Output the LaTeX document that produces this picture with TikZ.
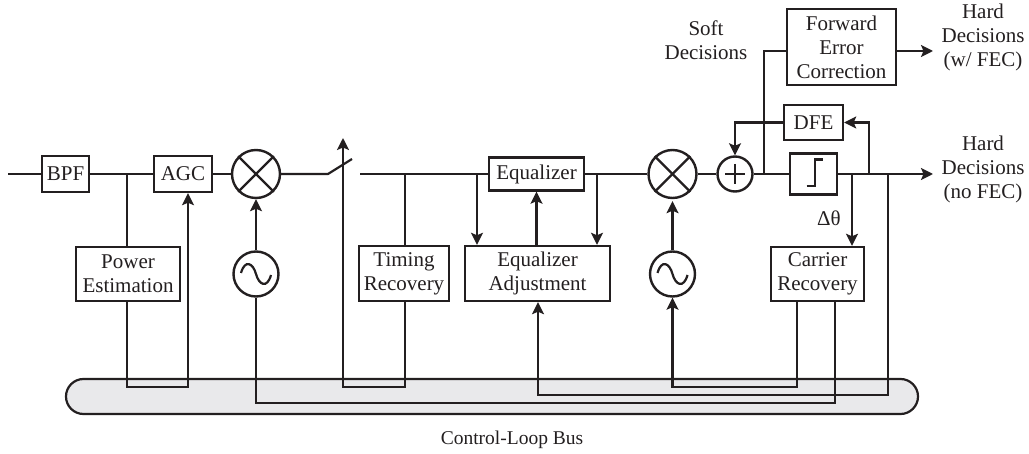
\documentclass[tikz,border=0pt]{standalone}
\usepackage{fontspec}
\setmainfont{Liberation Serif}
\usetikzlibrary{arrows.meta,shapes.misc,calc}
\definecolor{ink}{HTML}{231F20}
\definecolor{busgrey}{HTML}{E9E9EB}
\tikzset{
  every node/.style={text=ink,font=\fontsize{21}{24}\selectfont,inner sep=0pt,align=center},
  wire/.style={draw=ink,line width=2.2pt,line join=miter},
  arr/.style={wire,-{Stealth[length=12pt,width=12pt,inset=2.5pt]}},
  blockbox/.style={draw=ink,line width=2.4pt,fill=white,minimum width=#1},
  circ/.style={circle,draw=ink,line width=2.4pt,fill=white,minimum size=#1},
  txt/.style={draw=none},
  buspill/.style={rounded rectangle,draw=ink,fill=busgrey,line width=2.2pt,minimum width=852pt,minimum height=35pt}
}
\begin{document}
\begin{tikzpicture}[x=1pt,y=-1pt]
\useasboundingbox (0,0) rectangle (1029,454);
% bus
\node[buspill] (bus) at (492,396.5) {};
% blocks
\node[blockbox=47pt,minimum height=36pt] (bpf) at (65.5,174) {BPF};
\node[blockbox=58pt,minimum height=36pt] (agc) at (183,174) {AGC};
\node[blockbox=104pt,minimum height=54pt] (pow) at (128,274) {Power\\Estimation};
\node[blockbox=90pt,minimum height=55pt] (tim) at (404,273.5) {Timing\\Recovery};
\node[blockbox=95pt,minimum height=33pt] (eq) at (536.5,174) {Equalizer};
\node[blockbox=145pt,minimum height=55pt] (adj) at (537.5,273.5) {Equalizer\\Adjustment};
\node[blockbox=93pt,minimum height=54pt] (car) at (817.5,274) {Carrier\\Recovery};
\node[blockbox=109pt,minimum height=76pt] (fec) at (841.5,47) {Forward\\Error\\Correction};
\node[blockbox=59pt,minimum height=35pt] (dfe) at (813.5,122.5) {DFE};
\node[blockbox=47pt,minimum height=41pt] (sl) at (813.5,174) {};
\node[circ=48pt] (mix1) at (256,174) {};
\node[circ=48pt] (mix2) at (672.5,174) {};
\node[circ=45pt] (osc1) at (256,274) {};
\node[circ=45pt] (osc2) at (672.5,274) {};
\node[circ=35pt] (sum) at (735,174) {};
% symbols
\foreach \m in {mix1,mix2}{
  \draw[wire] (\m.45) -- (\m.225);
  \draw[wire] (\m.135) -- (\m.315);
}
\foreach \o in {osc1,osc2}{
  \begin{scope}[shift={(\o.center)}]
    \draw[wire] (-15,-1) .. controls (-11,-15) and (-3,-11) .. (0,0) .. controls (3,11) and (11,15) .. (15,1);
  \end{scope}
}
\draw[wire] ($(sum.center)+(-10,0)$) -- ($(sum.center)+(10,0)$);
\draw[wire] ($(sum.center)+(0,-10)$) -- ($(sum.center)+(0,10)$);
\begin{scope}[shift={(sl.center)}]
  \draw[wire] (-7,12) -- (1.5,12) -- (1.5,-14.5) -- (9,-14.5);
\end{scope}
% named free ends and junctions
\coordinate (in) at (8,174);
\coordinate (swa) at (328,174);
\coordinate (swb) at (352,159);
\coordinate (swc) at (360,174);
\coordinate (hard1) at (933,51);
\coordinate (hard2) at (933,174);
\coordinate (tapP) at (127,174);
\coordinate (tapT) at (405,174);
\coordinate (tapA) at (477,174);
\coordinate (tapB) at (597,174);
\coordinate (tapF) at (764,174);
\coordinate (tapD) at (869,174);
\coordinate (tapC) at (852,174);
\coordinate (tapE) at (888,174);
% main path
\draw[wire] (in) -- (bpf.west);
\draw[wire] (bpf.east) -- (agc.west);
\draw[wire] (agc.east) -- (mix1.west);
\draw[wire] (mix1.east) -- (swa) -- (swb);
\draw[wire] (swc) -- (eq.west);
\draw[wire] (eq.east) -- (mix2.west);
\draw[wire] (mix2.east) -- (sum.west);
\draw[wire] (sum.east) -- (sl.west);
\draw[arr] (sl.east) -- (hard2);
% taps
\draw[wire] (tapP) -- (tapP |- pow.north);
\draw[wire] (tapT) -- (tapT |- tim.north);
\draw[arr] (tapA) -- (tapA |- adj.north);
\draw[arr] (tapB) -- (tapB |- adj.north);
\draw[arr] (adj.north -| eq.south) -- (eq.south);
\draw[wire] (tapF) |- (fec.west |- hard1);
\draw[arr] (fec.east |- hard1) -- (hard1);
\draw[arr] (tapD) |- (dfe.east);
\draw[arr] (dfe.west) -| (sum.north);
\draw[arr] (tapC) -- (tapC |- car.north);
% oscillators to mixers
\draw[arr] (osc1.north) -- (mix1.south);
\draw[arr] (osc2.north) -- ($(mix2.south)+(0,2)$);
% loops through the bus
\coordinate (a1) at (127,387); \coordinate (a2) at (188,387);
\draw[arr] (a1 |- pow.south) -- (a1) -- (a2) -- (a2 |- agc.south);
\coordinate (b1) at (405,387); \coordinate (b2) at (343,387);
\draw[arr] (b1 |- tim.south) -- (b1) -- (b2) -- (343,138);
\coordinate (c1) at (797,387); \coordinate (c2) at (672.5,387);
\draw[arr] (c1 |- car.south) -- (c1) -- (c2) -- (c2 |- osc2.south);
\coordinate (d1) at (888,395); \coordinate (d2) at (538,395);
\draw[arr] (tapE) -- (d1) -- (d2) -- (d2 |- adj.south);
\coordinate (e1) at (835,403); \coordinate (e2) at (256,403);
\draw[wire] (e1 |- car.south) -- (e1) -- (e2) -- (osc1.south);
% labels
\node[txt] (lsoft) at (706,40) {Soft\\Decisions};
\node[txt] (lhard1) at (983,37) {Hard\\Decisions\\(w/ FEC)};
\node[txt] (lhard2) at (983,169) {Hard\\Decisions\\(no FEC)};
\node[txt] (ltheta) at (829,218) {Δθ};
\node[txt,font=\fontsize{19.5}{24}\selectfont] (lbus) at (512,440) {Control-Loop Bus};
\end{tikzpicture}
\end{document}
